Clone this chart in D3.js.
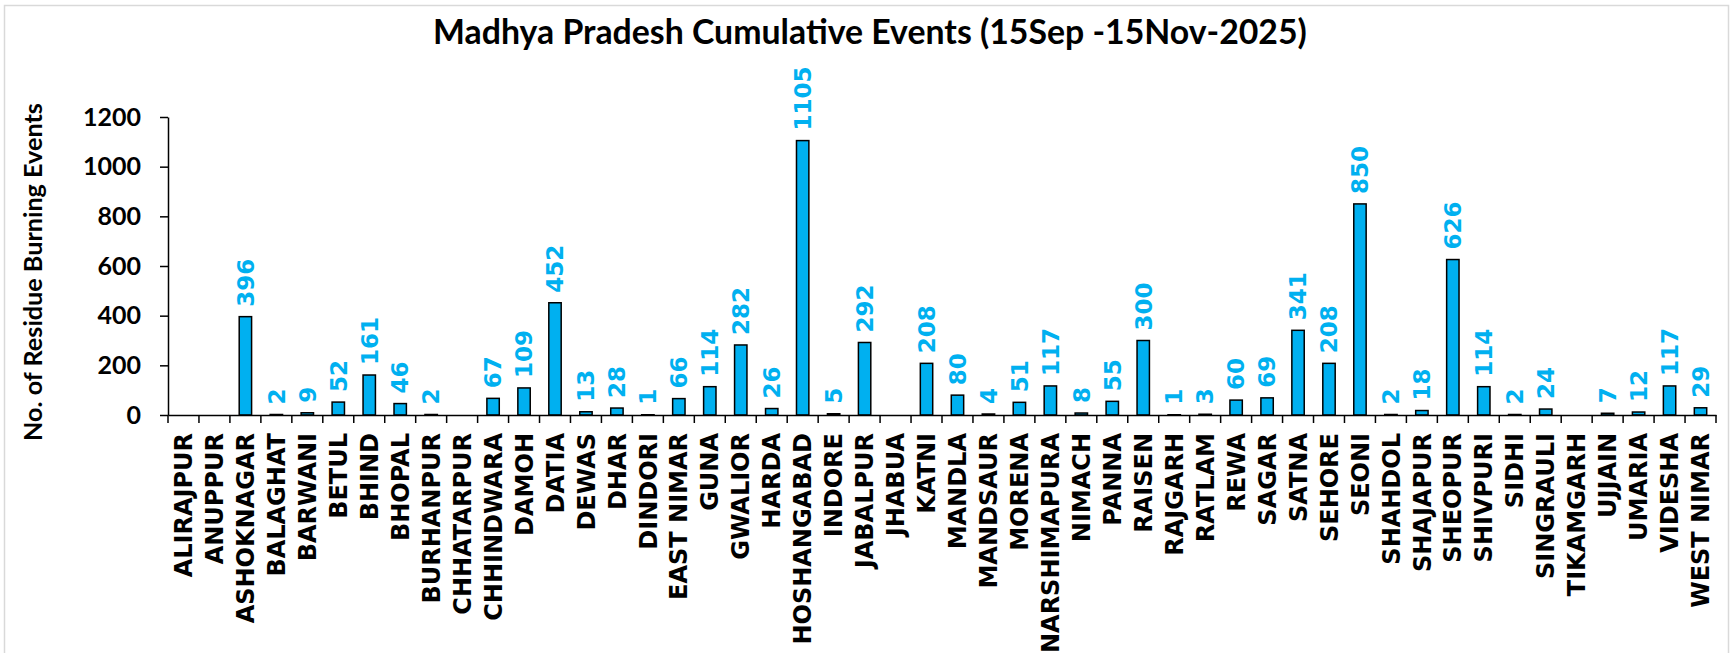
<!DOCTYPE html>
<html>
<head>
<meta charset="utf-8">
<script src="https://cdn.jsdelivr.net/npm/d3@7/dist/d3.min.js"></script>
<style>
  body { margin: 0; background: #fff; }
  svg { display: block; }
</style>
</head>
<body>
<svg id="chart" width="1731" height="653"></svg>
<script>
// district names, in the order of the x axis
const districts = ["ALIRAJPUR", "ANUPPUR", "ASHOKNAGAR", "BALAGHAT", "BARWANI", "BETUL", "BHIND", "BHOPAL",
  "BURHANPUR", "CHHATARPUR", "CHHINDWARA", "DAMOH", "DATIA", "DEWAS", "DHAR", "DINDORI", "EAST NIMAR",
  "GUNA", "GWALIOR", "HARDA", "HOSHANGABAD", "INDORE", "JABALPUR", "JHABUA", "KATNI", "MANDLA",
  "MANDSAUR", "MORENA", "NARSHIMAPURA", "NIMACH", "PANNA", "RAISEN", "RAJGARH", "RATLAM", "REWA",
  "SAGAR", "SATNA", "SEHORE", "SEONI", "SHAHDOL", "SHAJAPUR", "SHEOPUR", "SHIVPURI", "SIDHI",
  "SINGRAULI", "TIKAMGARH", "UJJAIN", "UMARIA", "VIDESHA", "WEST NIMAR"];

// cumulative events per district (0 = no bar, no label)
const events = [0, 0, 396, 2, 9, 52, 161, 46,
  2, 0, 67, 109, 452, 13, 28, 1, 66,
  114, 282, 26, 1105, 5, 292, 0, 208, 80,
  4, 51, 117, 8, 55, 300, 1, 3, 60,
  69, 341, 208, 850, 2, 18, 626, 114, 2,
  24, 0, 7, 12, 117, 29];

const yTicks = [0, 200, 400, 600, 800, 1000, 1200];

const title = "Madhya Pradesh Cumulative Events (15Sep -15Nov-2025)";
const yTitle = "No. of Residue Burning Events";

const data = districts.map((d, i) => ({ name: d, value: events[i] }));

const svg = d3.select("#chart");
const barColor = "#00B0F0";

// outer chart frame
svg.append("rect")
  .attr("x", 4.5).attr("y", 5.5)
  .attr("width", 1724).attr("height", 700)
  .attr("fill", "none")
  .attr("stroke", "#d9d9d9")
  .attr("stroke-width", 1.5);

// scales
const x = d3.scaleBand()
  .domain(districts)
  .range([168, 1716])
  .paddingInner(0.6)
  .paddingOuter(0.3);

const y = d3.scaleLinear()
  .domain([0, 1200])
  .range([415, 117]);

// title, stretched to the width it has in the original
const t = svg.append("text")
  .attr("x", 870).attr("y", 44)
  .attr("text-anchor", "middle")
  .style("font-family", "Lato, 'Open Sans', sans-serif")
  .style("font-weight", "bold")
  .style("font-size", "28px")
  .attr("fill", "#000")
  .text(title);
let w = t.node().getComputedTextLength();
t.style("font-size", (28 * 874 / w) + "px");

// y axis title
const yt = svg.append("text")
  .attr("transform", "translate(42,272) rotate(-90)")
  .attr("text-anchor", "middle")
  .style("font-family", "Lato, 'Open Sans', sans-serif")
  .style("font-weight", "bold")
  .style("font-size", "22px")
  .attr("fill", "#000")
  .text(yTitle);
w = yt.node().getComputedTextLength();
yt.style("font-size", (22 * 338 / w) + "px");

// y axis
const yAxis = svg.append("g")
  .attr("transform", "translate(168,0)")
  .call(d3.axisLeft(y).tickValues(yTicks).tickFormat(d3.format("d"))
    .tickSize(8).tickPadding(19).tickSizeOuter(0));
yAxis.select(".domain").attr("stroke", "#000").attr("stroke-width", 1.5);
yAxis.selectAll(".tick line").attr("stroke", "#000").attr("stroke-width", 1.5);
yAxis.selectAll(".tick text")
  .style("font-family", "Lato, 'Open Sans', sans-serif")
  .style("font-weight", "bold")
  .style("font-size", "25px")
  .attr("fill", "#000");

// bars
svg.append("g")
  .selectAll("rect")
  .data(data.filter(d => d.value > 0))
  .join("rect")
  .attr("x", d => x(d.name))
  .attr("y", d => y(d.value))
  .attr("width", x.bandwidth())
  .attr("height", d => y(0) - y(d.value))
  .attr("fill", barColor)
  .attr("stroke", "#000")
  .attr("stroke-width", 1.5);

// x axis with labels rotated and ticks at category boundaries
const xAxis = svg.append("g")
  .attr("transform", "translate(0," + y(0) + ")")
  .call(d3.axisBottom(x).tickSize(0).tickSizeOuter(0));
xAxis.select(".domain").attr("stroke", "#000").attr("stroke-width", 1.5);
xAxis.selectAll(".tick text")
  .attr("transform", "rotate(-90)")
  .attr("x", -18)
  .attr("y", 0)
  .attr("dy", "0.36em")
  .attr("text-anchor", "end")
  .style("font-family", "'DejaVu Sans', Verdana, sans-serif")
  .style("font-weight", "bold")
  .style("font-size", "24px")
  .attr("fill", "#000");

const step = x.step();
const bounds = districts.map(d => x(d) + x.bandwidth() / 2 - step / 2)
  .concat([x(districts[districts.length - 1]) + x.bandwidth() / 2 + step / 2]);
xAxis.selectAll(".bound")
  .data(bounds)
  .join("line")
  .attr("class", "bound")
  .attr("x1", d => d).attr("x2", d => d)
  .attr("y1", 0).attr("y2", 8)
  .attr("stroke", "#000")
  .attr("stroke-width", 1.5);

// data labels above bars
svg.append("g")
  .selectAll("text")
  .data(data.filter(d => d.value > 0))
  .join("text")
  .attr("transform", d => "translate(" + (x(d.name) + x.bandwidth() / 2) + "," + (y(d.value) - 10) + ") rotate(-90)")
  .attr("dy", "0.36em")
  .attr("text-anchor", "start")
  .style("font-family", "'DejaVu Sans', Verdana, sans-serif")
  .style("font-weight", "bold")
  .style("font-size", "23px")
  .attr("fill", barColor)
  .text(d => d.value);
</script>
</body>
</html>
